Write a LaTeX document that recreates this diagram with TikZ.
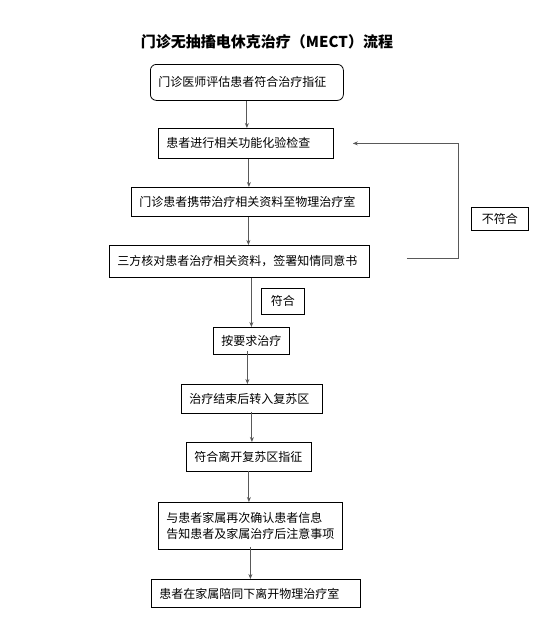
\documentclass[tikz,border=0pt]{standalone}
\usepackage{fontspec}
\setmainfont{Noto Sans CJK SC}
\usepackage{tikz}
\usetikzlibrary{positioning,arrows.meta}

\begin{document}
\begin{tikzpicture}[x=1pt, y=-1pt, >={Stealth[length=5pt,width=4pt]},
  stepbox/.style={draw, line width=0.8pt, anchor=north west, inner xsep=8pt,
    align=left, font=\fontsize{12}{16}\selectfont},
  tagbox/.style={draw, line width=0.8pt, anchor=north west, inner sep=0pt,
    align=center, font=\fontsize{12}{16}\selectfont},
  arr/.style={->, line width=0.9pt, draw=black!65}]
\useasboundingbox (0,0) rectangle (534,624);

%--- title ---
\node[font=\bfseries\fontsize{15}{18}\selectfont] (title) at (267,42)
  {门诊无抽搐电休克治疗（MECT）流程};

%--- main steps ---
\node[stepbox, rounded corners=6pt, text width=177pt, minimum height=36pt] (b1) at (150,64)
  {门诊医师评估患者符合治疗指征};
\node[stepbox, text width=159pt, minimum height=30pt] (b2) at (158,128)
  {患者进行相关功能化验检查};
\node[stepbox, text width=222pt, minimum height=29pt] (b3) at (131,187)
  {门诊患者携带治疗相关资料至物理治疗室};
\node[stepbox, text width=244pt, minimum height=32pt] (b4) at (109,245)
  {三方核对患者治疗相关资料，签署知情同意书};
\node[stepbox, text width=60pt, minimum height=27pt] (b5) at (213,327)
  {按要求治疗};
\node[stepbox, text width=125pt, minimum height=29pt] (b6) at (181,384)
  {治疗结束后转入复苏区};
\node[stepbox, text width=109pt, minimum height=29pt] (b7) at (186,442)
  {符合离开复苏区指征};
\node[stepbox, text width=168pt, minimum height=47pt] (b8) at (158,502)
  {与患者家属再次确认患者信息\\告知患者及家属治疗后注意事项};
\node[stepbox, text width=193pt, minimum height=28pt] (b9) at (151,579)
  {患者在家属陪同下离开物理治疗室};

%--- condition labels ---
\node[tagbox, minimum width=57pt, minimum height=23pt] (no) at (471,207) {不符合};
\node[tagbox, minimum width=43pt, minimum height=26pt] (yes) at (261,288) {符合};

%--- arrows ---
\draw[arr] (b1) -- (b1 |- b2.north);
\draw[arr] ([xshift=3pt]b2.south) -- ([xshift=3pt]b2.south |- b3.north);
\draw[arr] ([xshift=-2pt]b3.south) -- ([xshift=-2pt]b3.south |- b4.north);
\draw[arr] (b4.south -| b5.north) -- (b5.north);
\draw[arr] ([xshift=-4pt,yshift=4pt]b5.south) -- ([xshift=-4pt]b5.south |- b6.north);
\draw[arr] ([yshift=2pt]b6.south) -- (b6.south |- b7.north);
\draw[arr] ([yshift=1pt]b7.south) -- (b7.south |- b8.north);
\draw[arr] ([yshift=3pt]b8.south) -- (b8.south |- b9.north);

% back loop when not matching
\coordinate (back) at ([xshift=19pt]b2.east);
\draw[arr] ([xshift=37pt,yshift=3pt]b4.east) -- ++(52,0) |- (back);
\end{tikzpicture}
\end{document}
